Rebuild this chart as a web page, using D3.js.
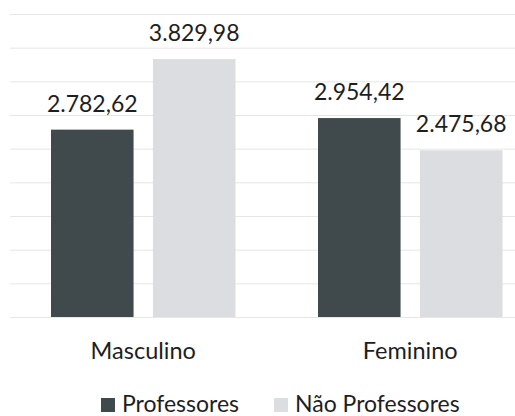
<!DOCTYPE html>
<html>
<head>
<meta charset="utf-8">
<script src="https://cdn.jsdelivr.net/npm/d3@7"></script>
<style>
	body { margin: 0; background: #fff; }
	svg { display: block; }
	text { font-family: Lato, "Open Sans", sans-serif; fill: #1e1e1e; }
</style>
</head>
<body>
<div id="chart"></div>
<script>
const categories = ['Masculino', 'Feminino'];
const series = ['Professores', 'Não Professores'];
const professores = [2782.62, 2954.42];
const nao_professores = [3829.98, 2475.68];
const y_ticks = [0, 500, 1000, 1500, 2000, 2500, 3000, 3500, 4000, 4500];

const colors = ['#404a4c', '#dcdde1'];

const width = 515;
const height = 416;

function format_value(v){
	// pt-BR style: 2.782,62
	let parts = v.toFixed(2).split('.');
	parts[0] = parts[0].replace(/\B(?=(\d{3})+(?!\d))/g, '.');
	return parts.join(',');
}

let data = categories.map((c, i) => {
	return { category: c, values: [professores[i], nao_professores[i]] };
});

let svg = d3.select('#chart')
	.append('svg')
	.attr('width', width)
	.attr('height', height);

// the scanned chart is cut on the right, so the plot runs past the edge
let x0 = d3.scaleBand()
	.domain(categories)
	.range([9.5, 543.5]);

let x1 = d3.scaleBand()
	.domain(series)
	.range([41.5, 226])
	.paddingInner(0.19);

let y = d3.scaleLinear()
	.domain([0, 4500])
	.range([317, 14]);

// gridlines
let grid = svg.append('g')
	.attr('transform', 'translate(10,0)')
	.call(d3.axisLeft(y).tickValues(y_ticks).tickSize(-510).tickFormat(''));
grid.select('.domain').remove();
grid.selectAll('.tick line')
	.attr('stroke', '#e6e6e6')
	.attr('stroke-width', 1);

// bars
let groups = svg.selectAll('.group')
	.data(data)
	.enter()
	.append('g')
	.attr('class', 'group')
	.attr('transform', d => 'translate(' + x0(d.category) + ',0)');

groups.selectAll('rect')
	.data(d => d.values.map((v, i) => ({ serie: series[i], value: v, i: i })))
	.enter()
	.append('rect')
	.attr('x', d => x1(d.serie))
	.attr('y', d => y(d.value))
	.attr('width', x1.bandwidth())
	.attr('height', d => y(0) - y(d.value))
	.attr('fill', d => colors[d.i]);

groups.selectAll('.value')
	.data(d => d.values.map((v, i) => ({ serie: series[i], value: v })))
	.enter()
	.append('text')
	.attr('class', 'value')
	.attr('x', d => x1(d.serie) + x1.bandwidth() / 2)
	.attr('y', d => y(d.value) - 18)
	.attr('text-anchor', 'middle')
	.style('font-size', '23px')
	.text(d => format_value(d.value));

// category labels
svg.selectAll('.cat')
	.data(categories)
	.enter()
	.append('text')
	.attr('class', 'cat')
	.attr('x', d => x0(d) + x1.range()[0] + (x1.range()[1] - x1.range()[0]) / 2)
	.attr('y', 359)
	.attr('text-anchor', 'middle')
	.style('font-size', '23.5px')
	.text(d => d);

// legend
const legend_x = [101, 274];
let legend = svg.selectAll('.legend')
	.data(series)
	.enter()
	.append('g')
	.attr('class', 'legend')
	.attr('transform', (d, i) => 'translate(' + legend_x[i] + ',0)');

legend.append('rect')
	.attr('x', 0)
	.attr('y', 398)
	.attr('width', 14)
	.attr('height', 14)
	.attr('fill', (d, i) => colors[i]);

legend.append('text')
	.attr('x', 21)
	.attr('y', 412)
	.style('font-size', '23px')
	.text(d => d);
</script>
</body>
</html>
